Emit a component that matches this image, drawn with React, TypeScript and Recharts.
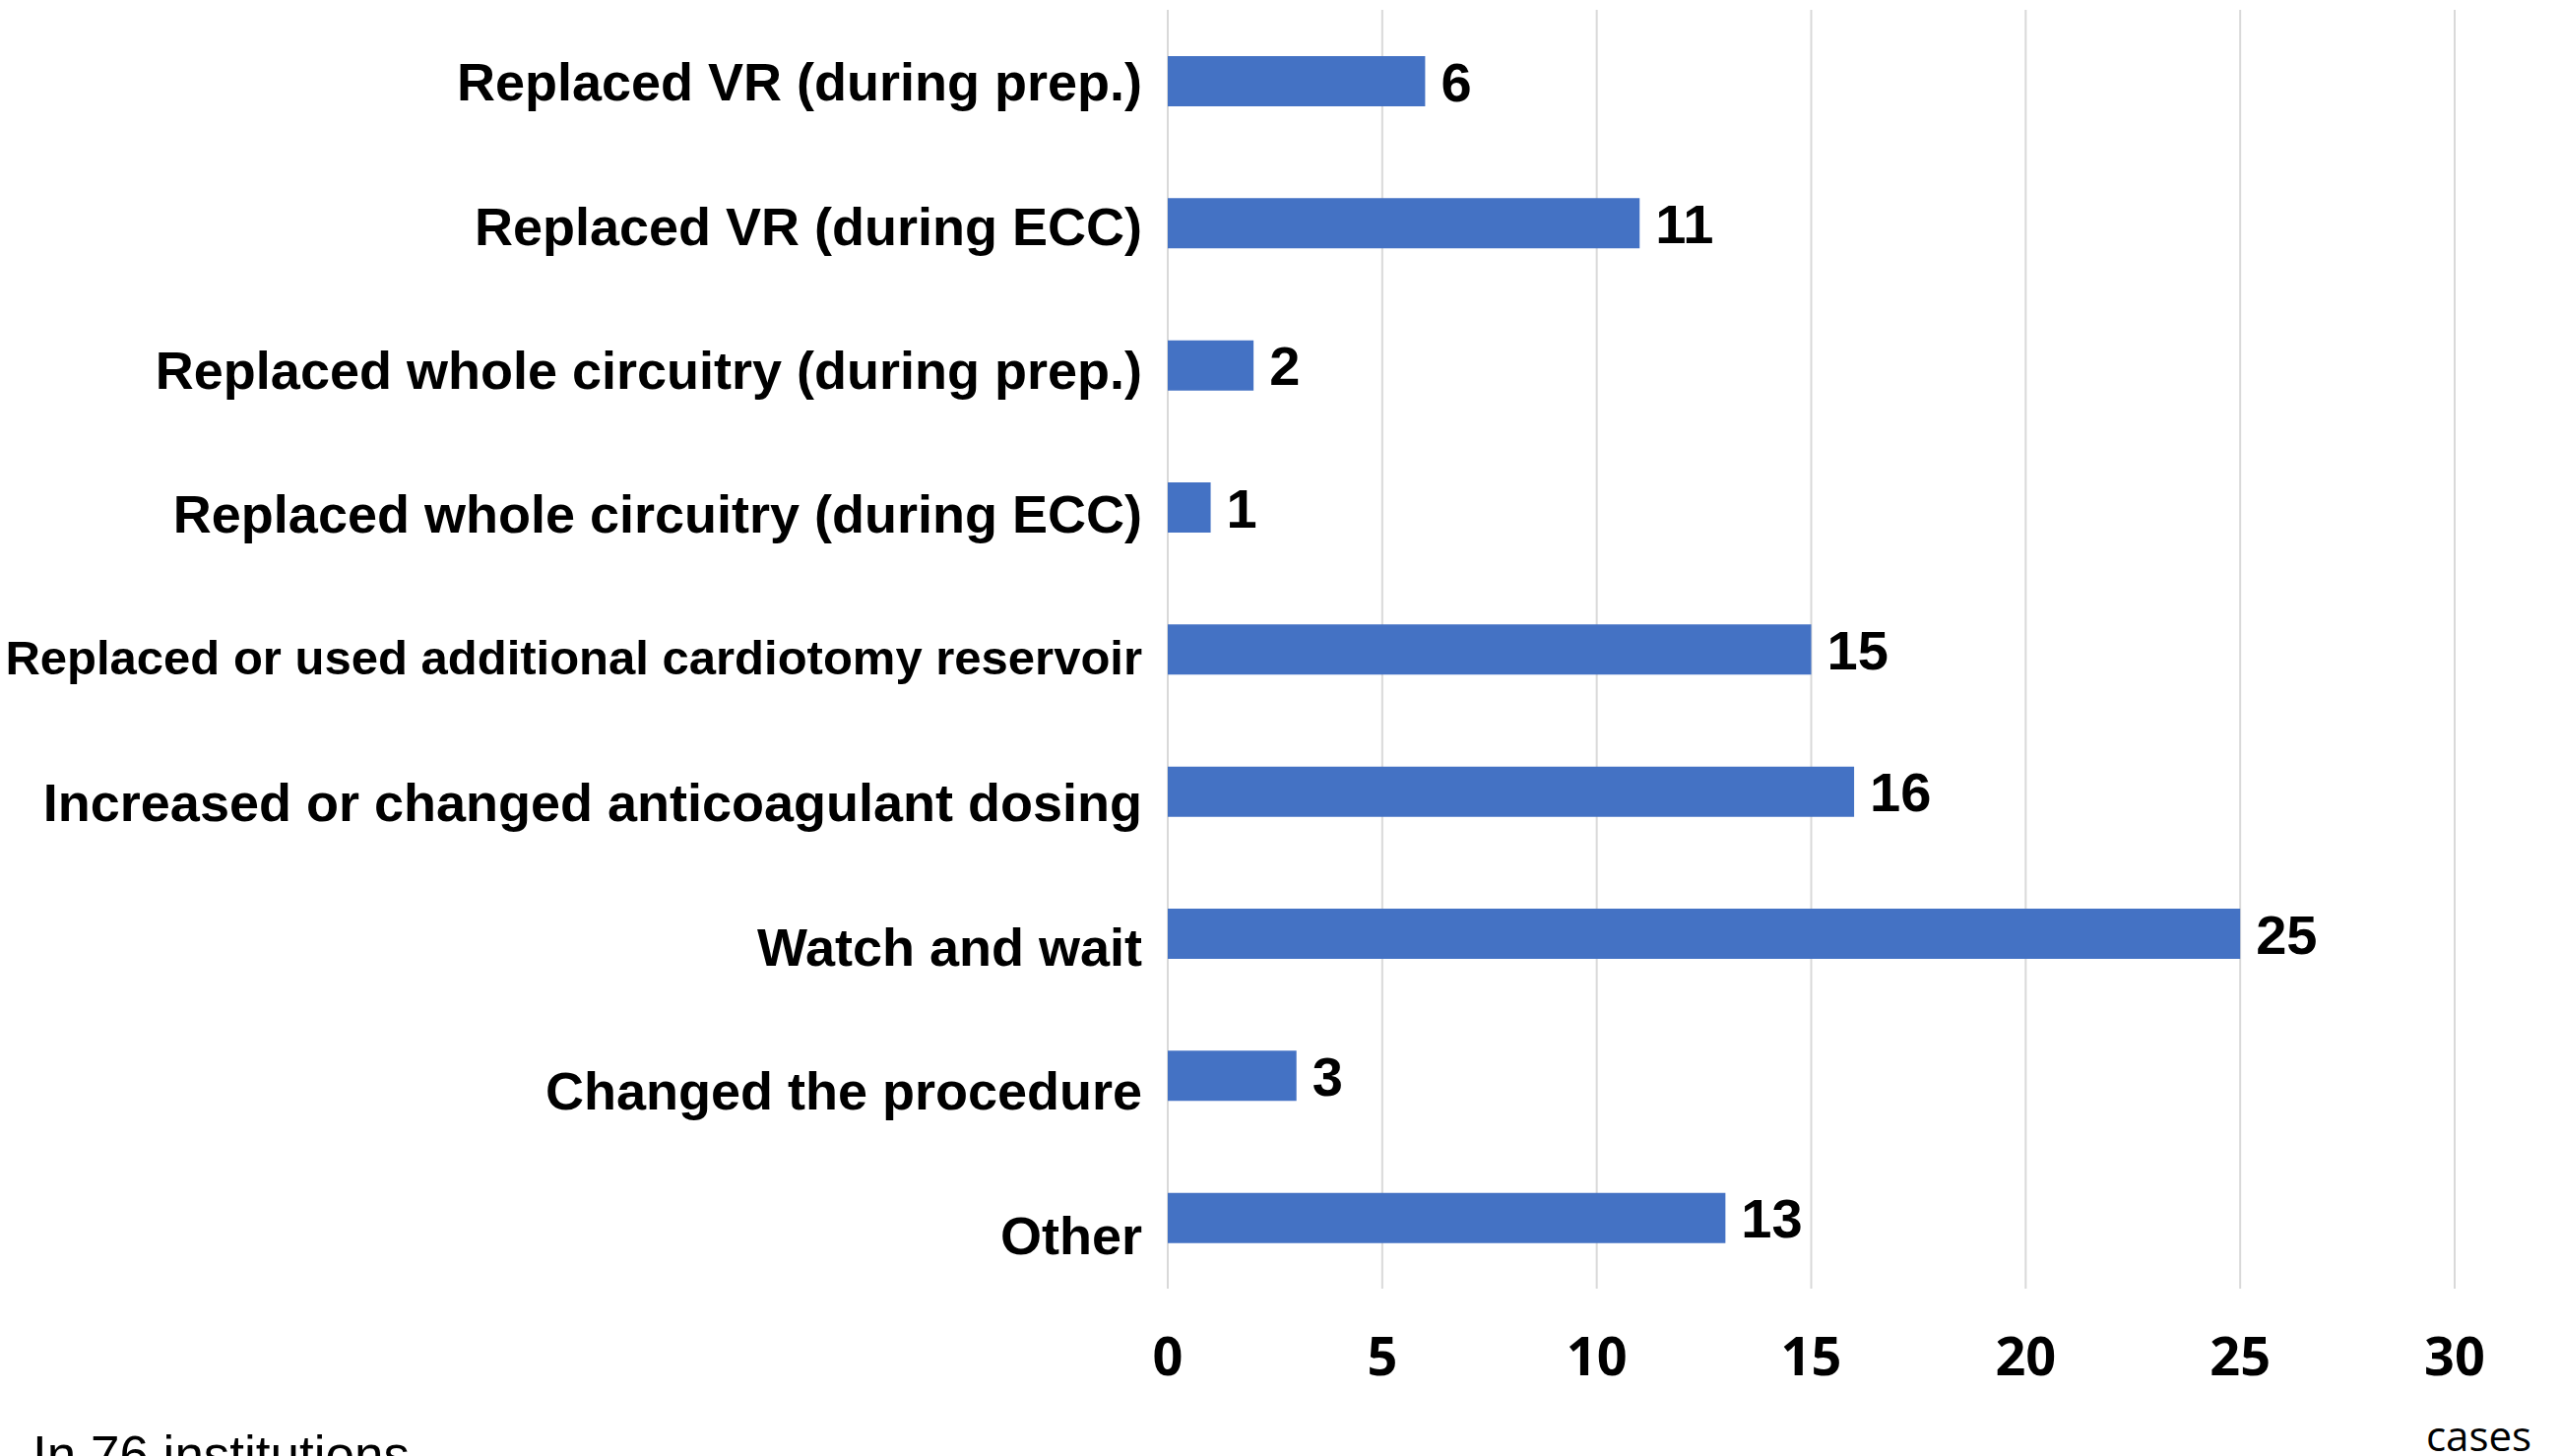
import React from 'react';
import { BarChart, Bar, XAxis, YAxis, CartesianGrid, LabelList } from 'recharts';

const categories = [
  'Replaced VR (during prep.)',
  'Replaced VR (during ECC)',
  'Replaced whole circuitry (during prep.)',
  'Replaced whole circuitry (during ECC)',
  'Replaced or used additional cardiotomy reservoir',
  'Increased or changed anticoagulant dosing',
  'Watch and wait',
  'Changed the procedure',
  'Other',
];
const values = [6, 11, 2, 1, 15, 16, 25, 3, 13];
const xTicks = [0, 5, 10, 15, 20, 25, 30];
const axisUnit = 'cases';
const footnote = 'In 76 institutions';

const data = categories.map((name, i) => ({ name, value: values[i] }));

const W = 2602;
const H = 1479;
const LABEL_FONT = '"Liberation Sans", Arial, sans-serif';
const TICK_FONT = '"Open Sans", "Noto Sans", sans-serif';

const YTick = (props: any) => {
  const { x, y, payload, index } = props;
  const small = String(payload.value).length > 42;
  const fs = small ? 49 : 54;
  const dy = (small ? 17 : 20) + index * 2.1;
  return (
    <text
      x={x - 26}
      y={y + dy}
      textAnchor="end"
      fontFamily={LABEL_FONT}
      fontWeight="bold"
      fontSize={fs}
      fill="#000"
    >
      {payload.value}
    </text>
  );
};

const XTick = (props: any) => {
  const { x, y, payload } = props;
  return (
    <text
      x={x}
      y={y + 88}
      textAnchor="middle"
      fontFamily={TICK_FONT}
      fontWeight="bold"
      fontSize={54}
      fill="#000"
    >
      {payload.value}
    </text>
  );
};

const ValueLabel = (props: any) => {
  const { x, y, width, height, value } = props;
  return (
    <text
      x={x + width + 16}
      y={y + height / 2 + 20}
      textAnchor="start"
      fontFamily={LABEL_FONT}
      fontWeight="bold"
      fontSize={56}
      fill="#000"
    >
      {value}
    </text>
  );
};

export default function App() {
  return (
    <div
      style={{
        position: 'absolute',
        left: 0,
        top: 0,
        width: W,
        height: H,
        overflow: 'hidden',
        background: '#fff',
      }}
    >
      <BarChart
        width={W}
        height={H}
        data={data}
        layout="vertical"
        margin={{ top: 10, right: 109, bottom: 70, left: 0 }}
      >
        <CartesianGrid horizontal={false} vertical={true} stroke="#d9d9d9" strokeWidth={2} />
        <XAxis
          type="number"
          domain={[0, 30]}
          ticks={xTicks}
          axisLine={false}
          tickLine={false}
          tickSize={0}
          tickMargin={0}
          height={100}
          tick={<XTick />}
          interval={0}
        />
        <YAxis
          type="category"
          dataKey="name"
          width={1186}
          axisLine={false}
          tickLine={false}
          tickSize={0}
          tickMargin={0}
          tick={<YTick />}
          interval={0}
        />
        <Bar dataKey="value" fill="#4472C4" barSize={51} isAnimationActive={false}>
          <LabelList dataKey="value" content={<ValueLabel />} />
        </Bar>
      </BarChart>
      <svg
        width={W}
        height={H}
        style={{ position: 'absolute', left: 0, top: 0, pointerEvents: 'none' }}
      >
        <text x={2464} y={1474} fontFamily={TICK_FONT} fontSize={42} fill="#000">
          {axisUnit}
        </text>
        <text x={33} y={1496} fontFamily={LABEL_FONT} fontSize={53} fill="#000">
          {footnote}
        </text>
      </svg>
    </div>
  );
}
